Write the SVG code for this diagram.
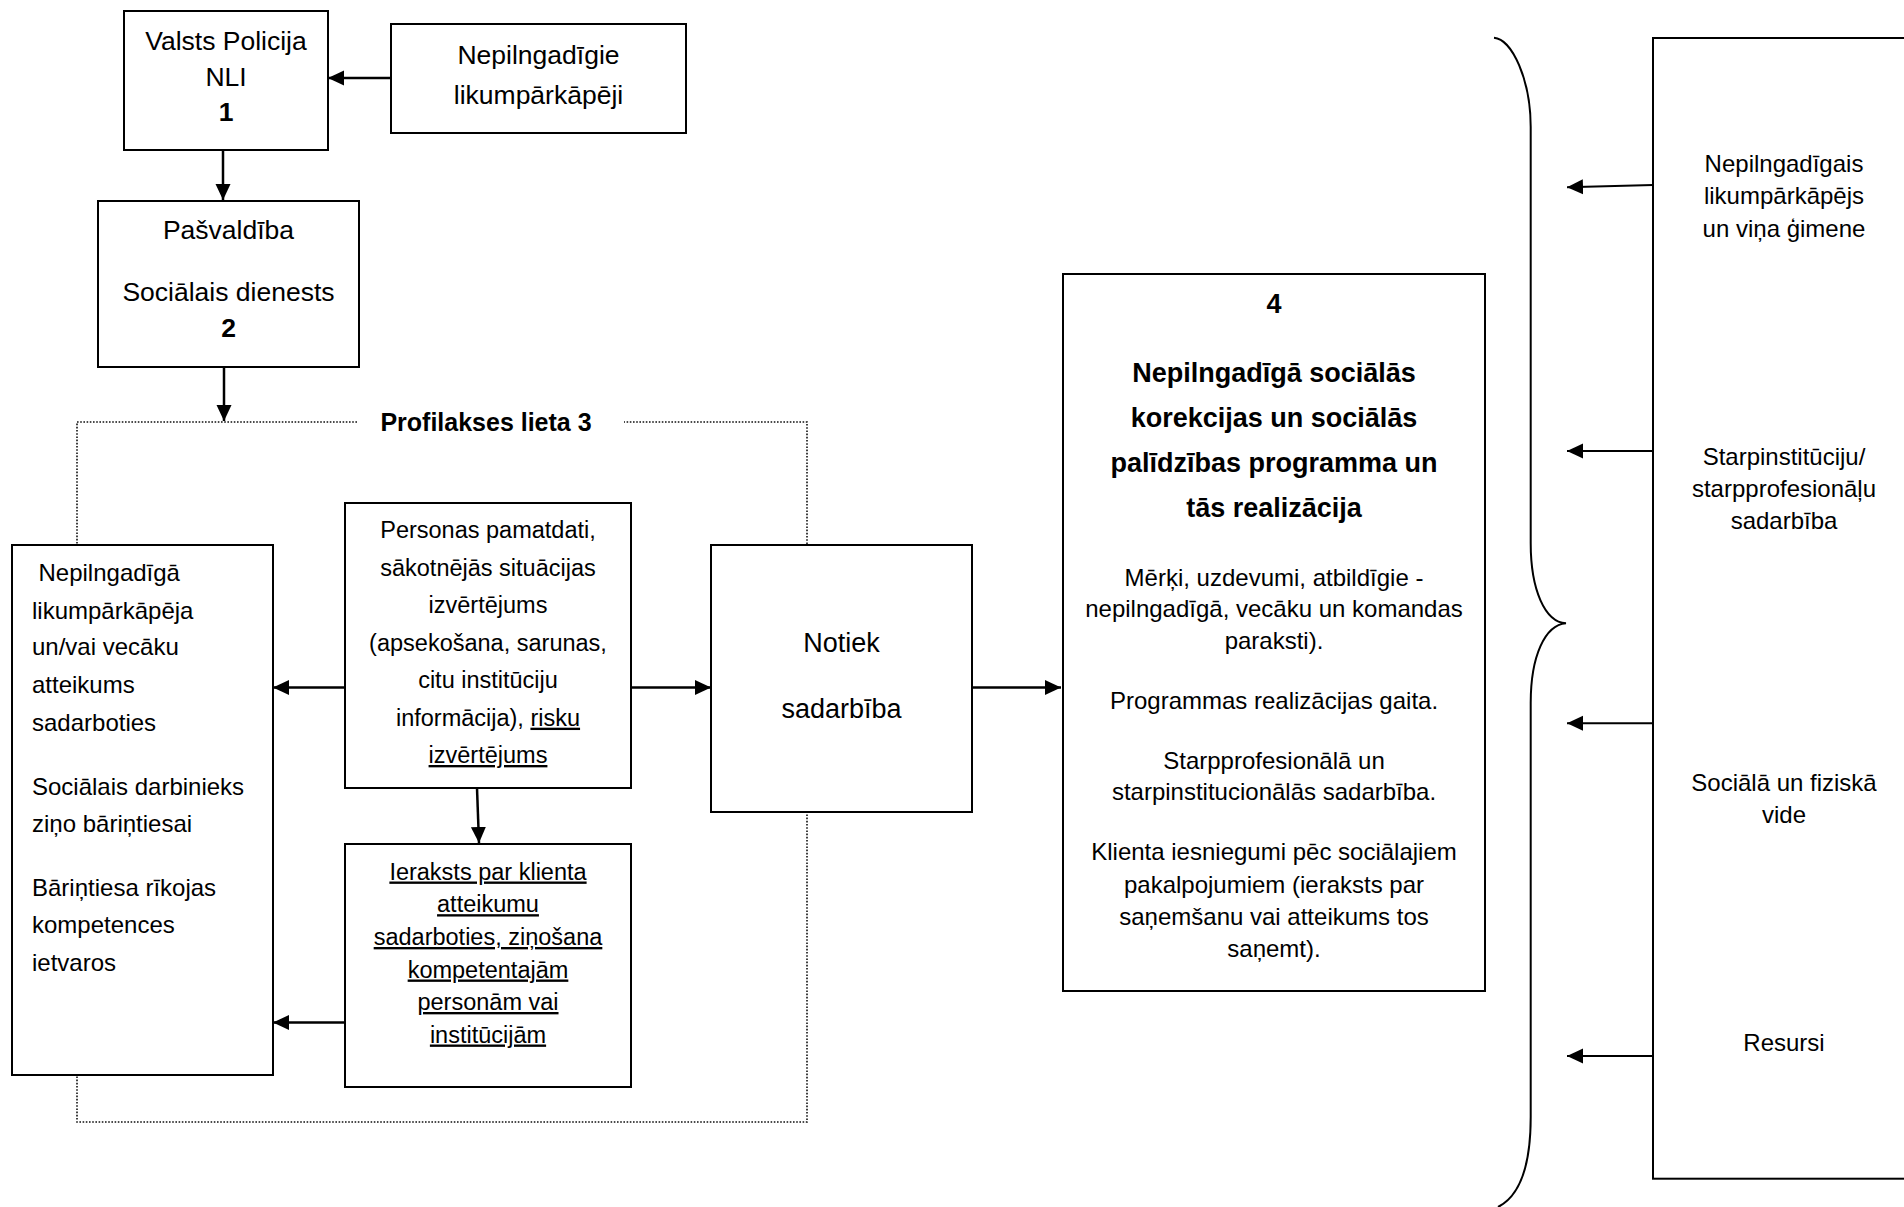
<svg xmlns="http://www.w3.org/2000/svg" width="1904" height="1207" viewBox="0 0 1904 1207">
<style>
.box{fill:#fff;stroke:#000;stroke-width:2}
.t{font-family:"Liberation Sans",Arial,sans-serif;fill:#000}
.c{text-anchor:middle}
.b{font-weight:bold}
.u{text-decoration:underline}
.conn{stroke:#000;stroke-width:2.5;fill:none;marker-end:url(#ah)}
.thin{stroke:#000;stroke-width:2;fill:none;marker-end:url(#ah)}
.dot{stroke:#111;stroke-width:1.6;stroke-dasharray:1.6 1.6;fill:none}
.brace{stroke:#000;stroke-width:2;fill:none}
</style>
<defs>
<marker id="ah" markerUnits="userSpaceOnUse" markerWidth="16" markerHeight="16" refX="16" refY="8" orient="auto">
<path d="M0,0.5 L16,8 L0,15.5 z" fill="#000"/>
</marker>
</defs>
<rect width="1904" height="1207" fill="#fff"/>

<g id="profilakses-lieta">
<path class="dot" d="M357,422 H77 V1122 H807 V422 H624"/>
<text class="t c b" x="486" y="431" font-size="25">Profilakses lieta 3</text>
</g>

<g id="brace">
<path class="brace" d="M1494,37.7 C1512,39 1530.7,80 1530.7,127 L1530.7,543 C1530.7,590 1545,622 1566,623.3 C1545,625 1530.7,656 1530.7,703 L1530.7,1117 C1530.7,1160 1522,1195 1498,1207"/>
</g>

<g id="connectors">
<line class="conn" x1="391" y1="78" x2="328" y2="78"/>
<line class="conn" x1="223" y1="150" x2="223" y2="200"/>
<line class="conn" x1="224" y1="367" x2="224" y2="421"/>
<line class="conn" x1="345" y1="687.5" x2="273" y2="687.5"/>
<line class="conn" x1="345" y1="1022.5" x2="273" y2="1022.5"/>
<line class="conn" x1="477" y1="788" x2="479" y2="843"/>
<line class="conn" x1="631" y1="687.5" x2="711" y2="687.5"/>
<line class="conn" x1="972" y1="687.5" x2="1061" y2="687.5"/>
<line class="thin" x1="1653" y1="185" x2="1567" y2="187.3"/>
<line class="thin" x1="1653" y1="451" x2="1567" y2="451"/>
<line class="thin" x1="1653" y1="723.3" x2="1567" y2="723.3"/>
<line class="thin" x1="1653" y1="1056" x2="1567" y2="1056"/>
</g>

<g id="n-valsts-policija">
<rect class="box" x="124" y="11" width="204" height="139"/>
<text class="t c" x="226" y="50" font-size="26.5">Valsts Policija</text>
<text class="t c" x="226" y="86" font-size="26.5">NLI</text>
<text class="t c b" x="226" y="121" font-size="26.5">1</text>
</g>

<g id="n-nepilngadigie">
<rect class="box" x="391" y="24" width="295" height="109"/>
<text class="t c" x="538.5" y="64" font-size="26.5">Nepilngadīgie</text>
<text class="t c" x="538.5" y="104" font-size="26.5">likumpārkāpēji</text>
</g>

<g id="n-pasvaldiba">
<rect class="box" x="98" y="201" width="261" height="166"/>
<text class="t c" x="228.5" y="239" font-size="26.5">Pašvaldība</text>
<text class="t c" x="228.5" y="301" font-size="26.5">Sociālais dienests</text>
<text class="t c b" x="228.5" y="337" font-size="26.5">2</text>
</g>

<g id="n-atteikums">
<rect class="box" x="12" y="545" width="261" height="530"/>
<g class="t" font-size="24">
<text x="38.5" y="581">Nepilngadīgā</text>
<text x="32" y="618.8">likumpārkāpēja</text>
<text x="32" y="655.2">un/vai vecāku</text>
<text x="32" y="692.9">atteikums</text>
<text x="32" y="730.5">sadarboties</text>
<text x="32" y="794.5">Sociālais darbinieks</text>
<text x="32" y="832">ziņo bāriņtiesai</text>
<text x="32" y="895.6">Bāriņtiesa rīkojas</text>
<text x="32" y="933.3">kompetences</text>
<text x="32" y="970.7">ietvaros</text>
</g>
</g>

<g id="n-personas-pamatdati">
<rect class="box" x="345" y="503" width="286" height="285"/>
<g class="t c" font-size="23.5">
<text x="488" y="538">Personas pamatdati,</text>
<text x="488" y="575.5">sākotnējās situācijas</text>
<text x="488" y="612.5">izvērtējums</text>
<text x="488" y="650.5">(apsekošana, sarunas,</text>
<text x="488" y="688">citu institūciju</text>
<text x="488" y="725.7">informācija), <tspan class="u">risku</tspan></text>
<text class="u" x="488" y="763">izvērtējums</text>
</g>
</g>

<g id="n-ieraksts">
<rect class="box" x="345" y="844" width="286" height="243"/>
<g class="t c u" font-size="23.5">
<text x="488" y="879.5">Ieraksts par klienta</text>
<text x="488" y="912.2">atteikumu</text>
<text x="488" y="945">sadarboties, ziņošana</text>
<text x="488" y="977.5">kompetentajām</text>
<text x="488" y="1010">personām vai</text>
<text x="488" y="1042.5">institūcijām</text>
</g>
</g>

<g id="n-notiek-sadarbiba">
<rect class="box" x="711" y="545" width="261" height="267"/>
<text class="t c" x="841.5" y="652" font-size="27">Notiek</text>
<text class="t c" x="841.5" y="718" font-size="27">sadarbība</text>
</g>

<g id="n-programma">
<rect class="box" x="1063" y="274" width="422" height="717"/>
<g class="t c b" font-size="27">
<text x="1274" y="313">4</text>
<text x="1274" y="382">Nepilngadīgā sociālās</text>
<text x="1274" y="426.5">korekcijas un sociālās</text>
<text x="1274" y="471.5">palīdzības programma un</text>
<text x="1274" y="516.7">tās realizācija</text>
</g>
<g class="t c" font-size="24">
<text x="1274" y="585.5">Mērķi, uzdevumi, atbildīgie -</text>
<text x="1274" y="617">nepilngadīgā, vecāku un komandas</text>
<text x="1274" y="649">paraksti).</text>
<text x="1274" y="708.5">Programmas realizācijas gaita.</text>
<text x="1274" y="768.5">Starpprofesionālā un</text>
<text x="1274" y="800">starpinstitucionālās sadarbība.</text>
<text x="1274" y="860">Klienta iesniegumi pēc sociālajiem</text>
<text x="1274" y="892.5">pakalpojumiem (ieraksts par</text>
<text x="1274" y="924.5">saņemšanu vai atteikums tos</text>
<text x="1274" y="956.5">saņemt).</text>
</g>
</g>

<g id="n-faktori">
<rect class="box" x="1653" y="38" width="270" height="1140.7"/>
<g class="t c" font-size="24">
<text x="1784" y="172.3">Nepilngadīgais</text>
<text x="1784" y="204">likumpārkāpējs</text>
<text x="1784" y="236.7">un viņa ģimene</text>
<text x="1784" y="465">Starpinstitūciju/</text>
<text x="1784" y="496.7">starpprofesionāļu</text>
<text x="1784" y="529.3">sadarbība</text>
<text x="1784" y="791">Sociālā un fiziskā</text>
<text x="1784" y="822.7">vide</text>
<text x="1784" y="1050.7">Resursi</text>
</g>
</g>
</svg>
